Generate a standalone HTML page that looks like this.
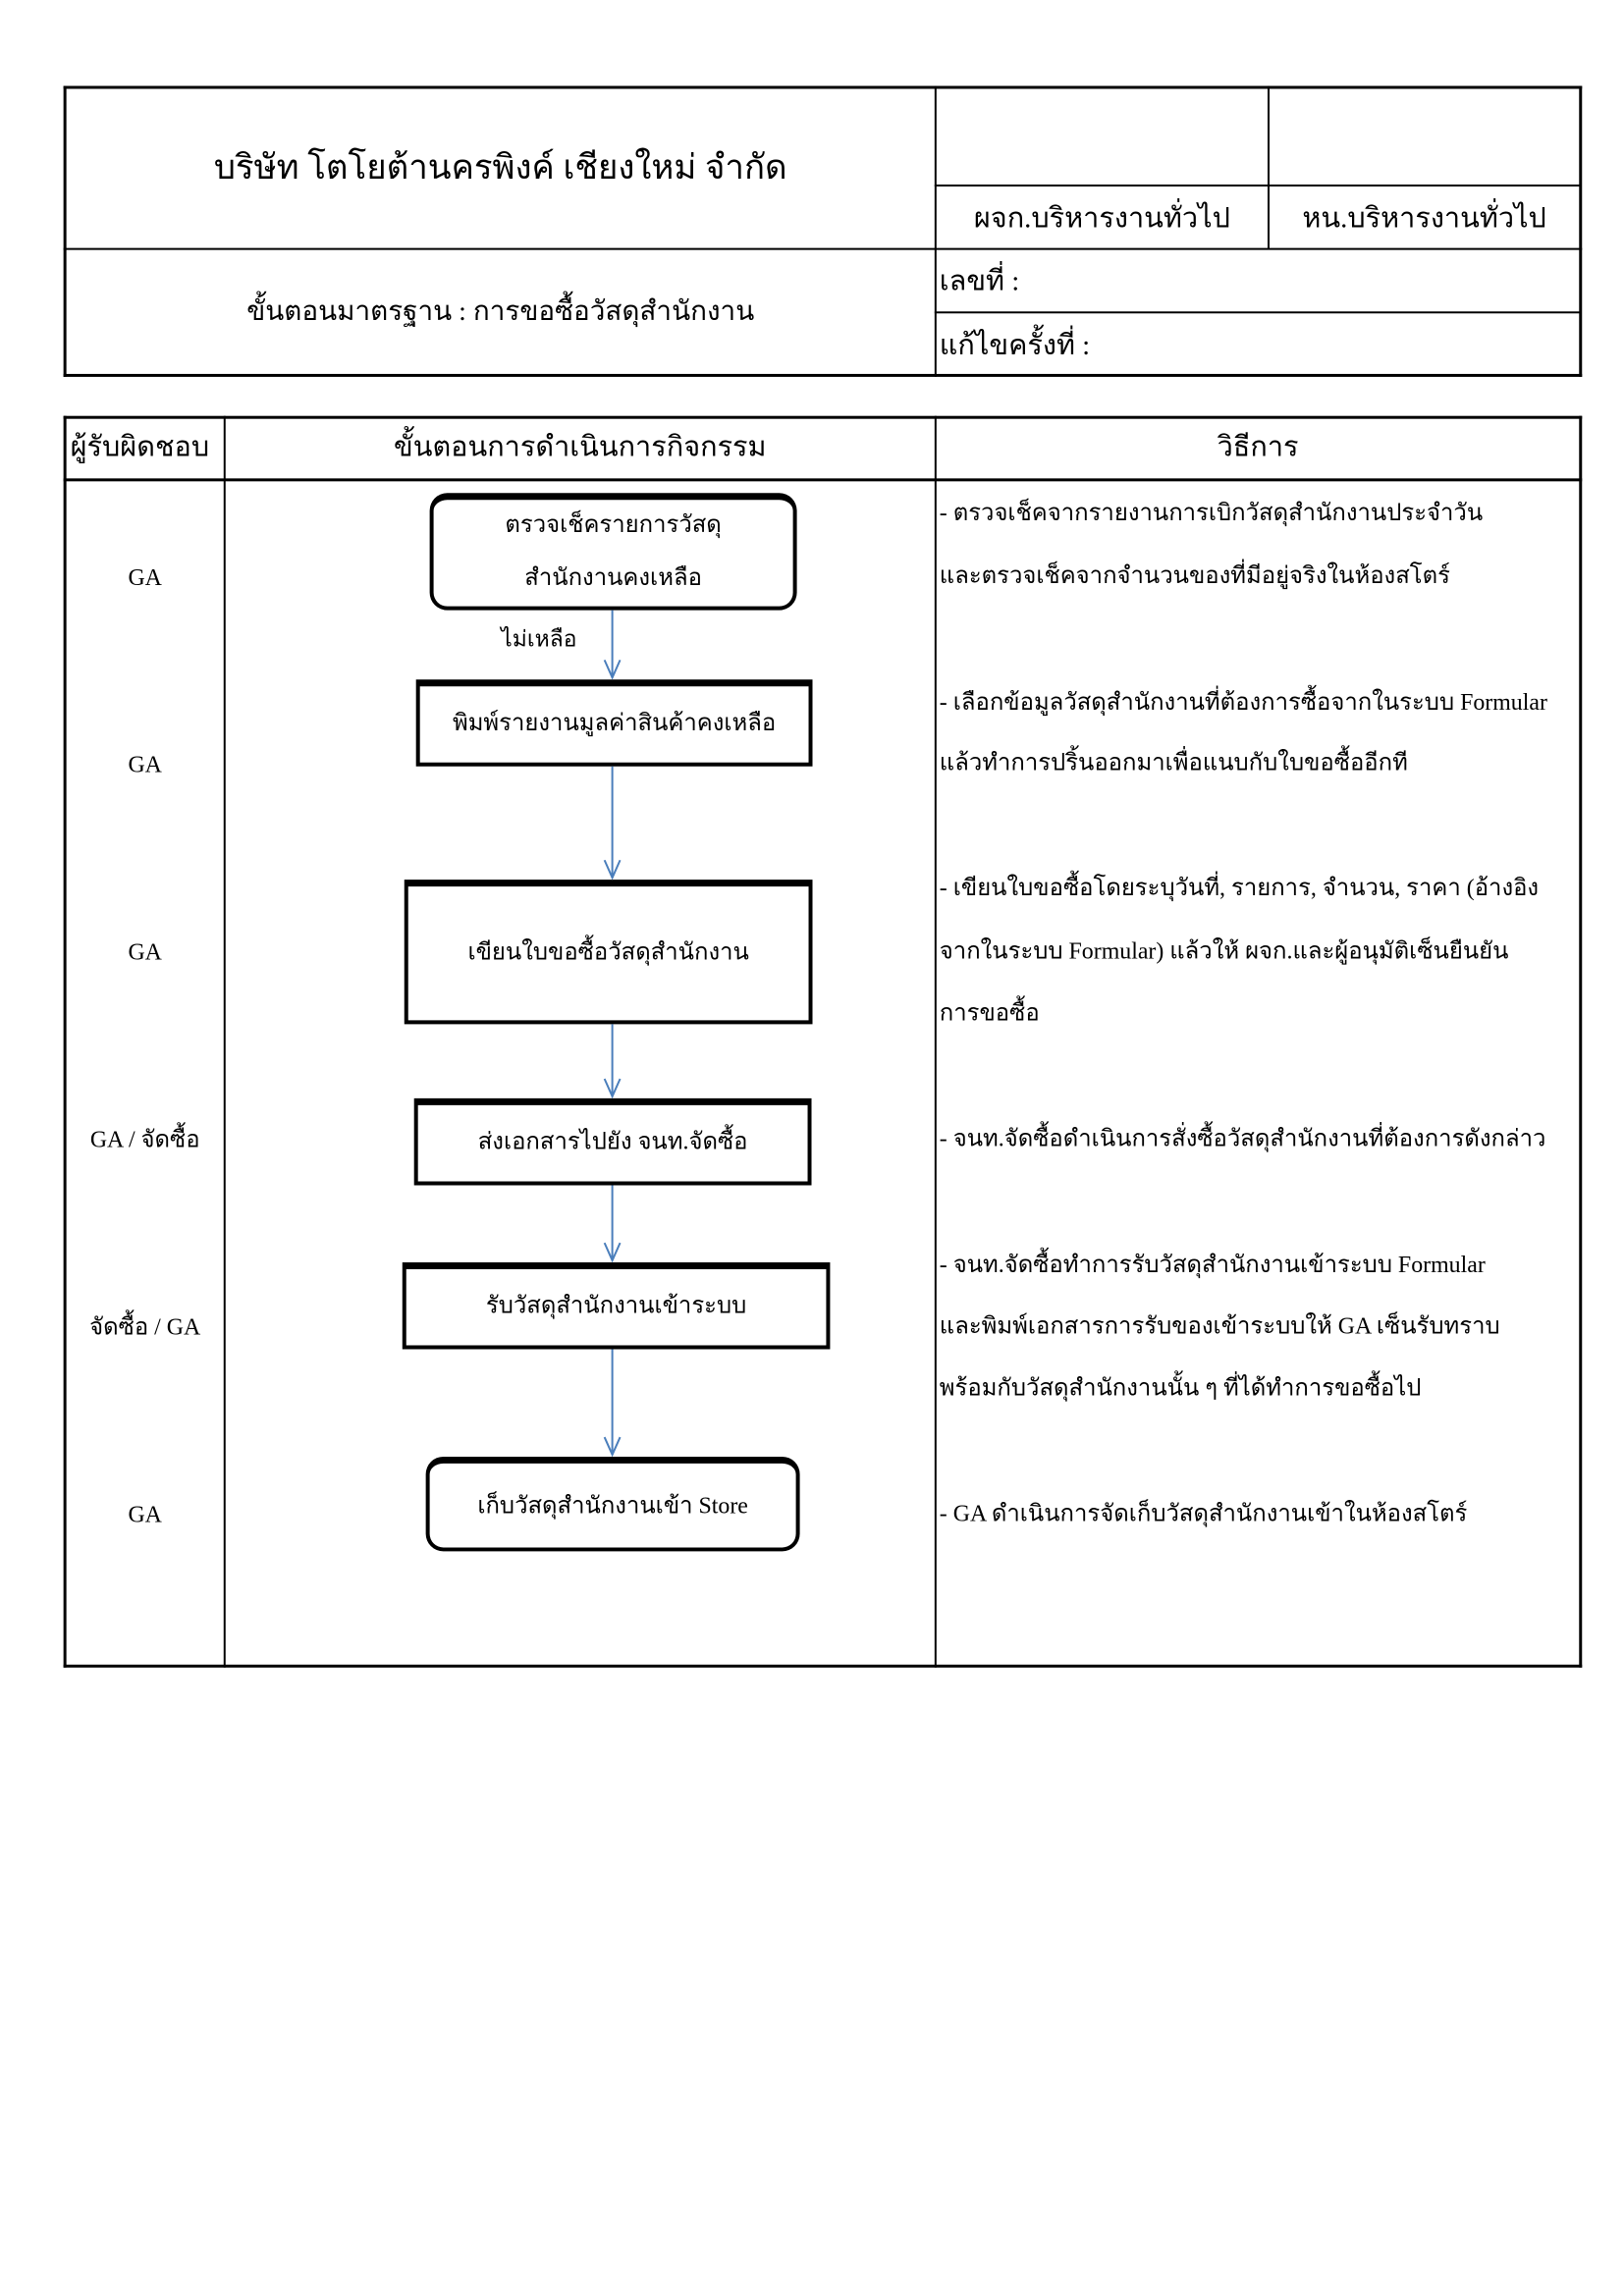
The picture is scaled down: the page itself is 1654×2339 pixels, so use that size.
<!DOCTYPE html>
<html><head><meta charset="utf-8">
<style>
body{margin:0;background:#fff;}
#w{position:relative;width:1654px;height:2339px;overflow:hidden;}
#p{position:absolute;left:0;top:0;width:1654px;height:2339px;transform:scale(0.9946);transform-origin:0 0;font-family:"Liberation Serif","Noto Sans CJK SC",serif;color:#000;}
.l{position:absolute;background:#000;}
.t{position:absolute;white-space:nowrap;line-height:40px;height:40px;font-size:24px;}
.c{text-align:center;}
.b{position:absolute;border:4px solid #000;border-top-width:7px;box-sizing:border-box;}
.r{border-radius:18px;}
</style></head><body><div id="w"><div id="p">
<div class="l" style="left:65px;top:88px;width:1555px;height:3px"></div>
<div class="l" style="left:65px;top:383px;width:1555px;height:3px"></div>
<div class="l" style="left:65px;top:88px;width:3px;height:298px"></div>
<div class="l" style="left:1617px;top:88px;width:3px;height:298px"></div>
<div class="l" style="left:957px;top:88px;width:2px;height:298px"></div>
<div class="l" style="left:1298px;top:88px;width:2px;height:167px"></div>
<div class="l" style="left:957px;top:189px;width:662px;height:2px"></div>
<div class="l" style="left:65px;top:254px;width:1555px;height:2px"></div>
<div class="l" style="left:957px;top:319px;width:662px;height:2px"></div>
<div class="t c" style="left:68px;width:889px;top:150px;font-size:35px;line-height:44px;height:44px">บริษัท โตโยต้านครพิงค์ เชียงใหม่ จำกัด</div>
<div class="t c" style="left:959px;width:339px;top:204px;font-size:29px">ผจก.บริหารงานทั่วไป</div>
<div class="t c" style="left:1300px;width:317px;top:204px;font-size:29px">หน.บริหารงานทั่วไป</div>
<div class="t c" style="left:68px;width:889px;top:300px;font-size:28px">ขั้นตอนมาตรฐาน : การขอซื้อวัสดุสำนักงาน</div>
<div class="t" style="left:962px;top:268px;font-size:29px">เลขที่ :</div>
<div class="t" style="left:962px;top:334px;font-size:29px">แก้ไขครั้งที่ :</div>
<div class="l" style="left:65px;top:426px;width:1555px;height:3px"></div>
<div class="l" style="left:65px;top:490px;width:1555px;height:3px"></div>
<div class="l" style="left:65px;top:1705px;width:1555px;height:3px"></div>
<div class="l" style="left:65px;top:426px;width:3px;height:1282px"></div>
<div class="l" style="left:1617px;top:426px;width:3px;height:1282px"></div>
<div class="l" style="left:229px;top:426px;width:2px;height:1282px"></div>
<div class="l" style="left:957px;top:426px;width:2px;height:1282px"></div>
<div class="t" style="left:72px;top:438px;font-size:29px">ผู้รับผิดชอบ</div>
<div class="t c" style="left:231px;width:726px;top:438px;font-size:29px">ขั้นตอนการดำเนินการกิจกรรม</div>
<div class="t c" style="left:959px;width:658px;top:438px;font-size:29px">วิธีการ</div>
<div class="t c" style="left:68px;width:161px;top:572px">GA</div>
<div class="t c" style="left:68px;width:161px;top:764px">GA</div>
<div class="t c" style="left:68px;width:161px;top:956px">GA</div>
<div class="t c" style="left:68px;width:161px;top:1148px">GA / จัดซื้อ</div>
<div class="t c" style="left:68px;width:161px;top:1340px">จัดซื้อ / GA</div>
<div class="t c" style="left:68px;width:161px;top:1532px">GA</div>
<div class="b r" style="left:440px;top:505px;width:376px;height:120px"></div>
<div class="t c" style="left:440px;width:376px;top:518px">ตรวจเช็ครายการวัสดุ</div>
<div class="t c" style="left:440px;width:376px;top:572px">สำนักงานคงเหลือ</div>
<div class="b" style="left:426px;top:696px;width:406px;height:89px"></div>
<div class="t c" style="left:426px;width:406px;top:721px">พิมพ์รายงานมูลค่าสินค้าคงเหลือ</div>
<div class="b" style="left:414px;top:901px;width:418px;height:148px"></div>
<div class="t c" style="left:414px;width:418px;top:956px">เขียนใบขอซื้อวัสดุสำนักงาน</div>
<div class="b" style="left:424px;top:1125px;width:407px;height:89px"></div>
<div class="t c" style="left:424px;width:407px;top:1150px">ส่งเอกสารไปยัง จนท.จัดซื้อ</div>
<div class="b" style="left:412px;top:1293px;width:438px;height:89px"></div>
<div class="t c" style="left:412px;width:438px;top:1318px">รับวัสดุสำนักงานเข้าระบบ</div>
<div class="b r" style="left:436px;top:1492px;width:383px;height:97px"></div>
<div class="t c" style="left:436px;width:383px;top:1523px">เก็บวัสดุสำนักงานเข้า Store</div>
<div class="t" style="left:513px;top:635px;font-size:23px">ไม่เหลือ</div>
<svg style="position:absolute;left:0;top:0" width="1654" height="2339">
<g stroke="#4a7ebb" stroke-width="2" fill="none">
<line x1="627" y1="625" x2="627" y2="694"/><polyline points="619,676 627,694 635,676"/>
<line x1="627" y1="785" x2="627" y2="899"/><polyline points="619,881 627,899 635,881"/>
<line x1="627" y1="1049" x2="627" y2="1123"/><polyline points="619,1105 627,1123 635,1105"/>
<line x1="627" y1="1214" x2="627" y2="1291"/><polyline points="619,1273 627,1291 635,1273"/>
<line x1="627" y1="1382" x2="627" y2="1490"/><polyline points="619,1472 627,1490 635,1472"/>
</g></svg>
<div class="t" style="left:962px;top:506px">- ตรวจเช็คจากรายงานการเบิกวัสดุสำนักงานประจำวัน</div>
<div class="t" style="left:962px;top:570px">และตรวจเช็คจากจำนวนของที่มีอยู่จริงในห้องสโตร์</div>
<div class="t" style="left:962px;top:700px">- เลือกข้อมูลวัสดุสำนักงานที่ต้องการซื้อจากในระบบ Formular</div>
<div class="t" style="left:962px;top:762px">แล้วทำการปริ้นออกมาเพื่อแนบกับใบขอซื้ออีกที</div>
<div class="t" style="left:962px;top:890px">- เขียนใบขอซื้อโดยระบุวันที่, รายการ, จำนวน, ราคา (อ้างอิง</div>
<div class="t" style="left:962px;top:955px">จากในระบบ Formular)  แล้วให้ ผจก.และผู้อนุมัติเซ็นยืนยัน</div>
<div class="t" style="left:962px;top:1018px">การขอซื้อ</div>
<div class="t" style="left:962px;top:1147px">- จนท.จัดซื้อดำเนินการสั่งซื้อวัสดุสำนักงานที่ต้องการดังกล่าว</div>
<div class="t" style="left:962px;top:1276px">- จนท.จัดซื้อทำการรับวัสดุสำนักงานเข้าระบบ Formular</div>
<div class="t" style="left:962px;top:1339px">และพิมพ์เอกสารการรับของเข้าระบบให้ GA เซ็นรับทราบ</div>
<div class="t" style="left:962px;top:1402px">พร้อมกับวัสดุสำนักงานนั้น ๆ ที่ได้ทำการขอซื้อไป</div>
<div class="t" style="left:962px;top:1531px">- GA ดำเนินการจัดเก็บวัสดุสำนักงานเข้าในห้องสโตร์</div>
</div></div></body></html>
